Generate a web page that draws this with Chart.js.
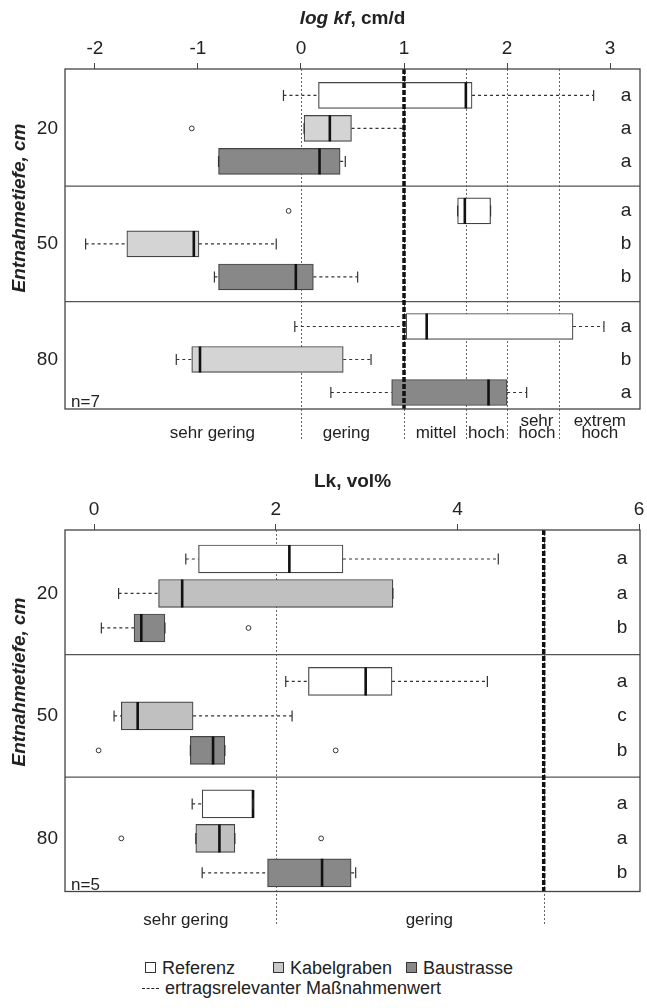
<!DOCTYPE html>
<html>
<head>
<meta charset="utf-8">
<script src="https://cdn.jsdelivr.net/npm/chart.js@4.4.1/dist/chart.umd.min.js"></script>
<style>
  body { margin: 0; background: #fff; font-family: 'Liberation Sans', Arial, sans-serif; }
  #wrap { position: relative; width: 647px; height: 1008px; overflow: hidden; }
  canvas { position: absolute; left: 0; }
  #c1 { top: 0; }
  #c2 { top: 460px; }
  .leg { position: absolute; font-size: 18px; color: #222; white-space: nowrap; line-height: 20px; }
  .sw { display: inline-block; width: 9px; height: 9px; border: 1px solid #333; margin-right: 6px; vertical-align: 1px; }
  .dash { display: inline-block; width: 17px; border-top: 1.5px dashed #222; margin-right: 6px; vertical-align: 5px; }
</style>
</head>
<body>
<div id="wrap">
  <canvas id="c1" width="647" height="460"></canvas>
  <canvas id="c2" width="647" height="485"></canvas>
  <div id="legend"></div>
</div>
<script>
const depths = ['20', '50', '80'];
const groups = ['Referenz', 'Kabelgraben', 'Baustrasse'];
const thresholdName = 'ertragsrelevanter Maßnahmenwert';

// log kf, cm/d -- per depth: [lower whisker, Q1, median, Q3, upper whisker]
const kfReferenz    = [[-0.17, 0.17, 1.60, 1.66, 2.84], [1.52, 1.52, 1.59, 1.84, 1.84], [-0.06, 1.02, 1.22, 2.64, 2.94]];
const kfKabelgraben = [[0.03, 0.03, 0.28, 0.49, 1.00], [-2.09, -1.69, -1.04, -0.99, -0.24], [-1.21, -1.06, -0.98, 0.41, 0.68]];
const kfBaustrasse  = [[-0.80, -0.80, 0.18, 0.38, 0.43], [-0.84, -0.80, -0.05, 0.12, 0.55], [0.29, 0.88, 1.82, 2.00, 2.19]];
// outliers [depth][group]
const kfOutliers    = [[[], [-1.06], []], [[-0.12], [], []], [[], [], []]];
const kfLetters     = [['a', 'a', 'a'], ['a', 'b', 'b'], ['a', 'b', 'a']];
const kfTicks       = [-2, -1, 0, 1, 2, 3];
const kfClassBreaks = [0, 1.6, 2, 2.5];
const kfClassNames  = [['sehr gering'], ['gering'], ['mittel'], ['hoch'], ['sehr', 'hoch'], ['extrem', 'hoch']];
const kfClassAt     = [-0.86, 0.44, 1.31, 1.80, 2.29, 2.90];
const kfThreshold   = 1;

// Lk, vol%
const lkReferenz    = [[1.01, 1.15, 2.15, 2.74, 4.45], [2.11, 2.36, 2.99, 3.28, 4.33], [1.08, 1.19, 1.75, 1.75, 1.75]];
const lkKabelgraben = [[0.27, 0.71, 0.97, 3.29, 3.29], [0.22, 0.30, 0.48, 1.09, 2.18], [1.12, 1.12, 1.38, 1.55, 1.55]];
const lkBaustrasse  = [[0.08, 0.44, 0.52, 0.78, 0.78], [1.06, 1.06, 1.31, 1.44, 1.44], [1.19, 1.91, 2.51, 2.83, 2.88]];
const lkOutliers    = [[[], [], [1.70]], [[], [], [0.05, 2.66]], [[], [0.30, 2.50], []]];
const lkLetters     = [['a', 'a', 'b'], ['a', 'c', 'b'], ['a', 'a', 'b']];
const lkTicks       = [0, 2, 4, 6];
const lkClassBreaks = [2];
const lkClassNames  = [['sehr gering'], ['gering']];
const lkClassAt     = [1.01, 3.69];
const lkThreshold   = 4.95;

const FONT = "'Liberation Sans', Arial, sans-serif";
const INK = '#222';

const boxDecor = {
  id: 'boxDecor',
  beforeDatasetsDraw(chart, args, o) {
    const { ctx, chartArea: a, scales: { x } } = chart;
    ctx.save();
    ctx.strokeStyle = '#666';
    ctx.lineWidth = 1;
    ctx.setLineDash([2, 2]);
    o.breaks.concat([o.threshold]).forEach(v => {
      const px = Math.round(x.getPixelForValue(v)) + 0.5;
      ctx.beginPath(); ctx.moveTo(px, a.top); ctx.lineTo(px, o.lineBottom); ctx.stroke();
    });
    ctx.restore();
  },
  afterDatasetsDraw(chart, args, o) {
    const { ctx, chartArea: a, scales: { x, y } } = chart;
    ctx.save();
    // group separators
    ctx.strokeStyle = '#555';
    ctx.lineWidth = 1.3;
    for (let g = 1; g < depths.length; g++) {
      const py = y.getPixelForValue(g * o.step - (o.step - 2) / 2);
      ctx.beginPath(); ctx.moveTo(a.left, py); ctx.lineTo(a.right, py); ctx.stroke();
    }
    // threshold
    const tx = x.getPixelForValue(o.threshold);
    ctx.strokeStyle = '#111';
    ctx.lineWidth = 3.5;
    ctx.setLineDash([5, 2]);
    ctx.beginPath(); ctx.moveTo(tx, a.top); ctx.lineTo(tx, a.bottom); ctx.stroke();
    ctx.setLineDash([]);
    // frame
    ctx.strokeStyle = '#444';
    ctx.lineWidth = 1.3;
    ctx.strokeRect(a.left, a.top, a.right - a.left, a.bottom - a.top);

    ctx.fillStyle = INK;
    // significance letters
    ctx.font = `19px ${FONT}`;
    ctx.textAlign = 'center';
    ctx.textBaseline = 'middle';
    o.letters.forEach((row, g) => row.forEach((t, j) => {
      ctx.fillText(t, a.right - o.letterInset, y.getPixelForValue(g * o.step + j));
    }));
    // class labels below the plot
    ctx.font = `17px ${FONT}`;
    ctx.textBaseline = 'alphabetic';
    o.classNames.forEach((lines, i) => {
      const cx = x.getPixelForValue(o.classAt[i]);
      lines.forEach((t, k) => ctx.fillText(t, cx, o.labelBaseline - (lines.length - 1 - k) * 12));
    });
    // n
    ctx.textAlign = 'left';
    ctx.fillText(o.n, a.left + 6, a.bottom - 2);
    // x title (mixed styles)
    const parts = o.title;
    let w = 0;
    parts.forEach(p => { ctx.font = `${p.italic ? 'italic ' : ''}bold 19px ${FONT}`; w += ctx.measureText(p.text).width; });
    let px = (a.left + a.right) / 2 - w / 2;
    parts.forEach(p => {
      ctx.font = `${p.italic ? 'italic ' : ''}bold 19px ${FONT}`;
      ctx.fillText(p.text, px, o.titleBaseline);
      px += ctx.measureText(p.text).width;
    });
    // y title
    ctx.translate(20, o.yTitleY);
    ctx.rotate(-Math.PI / 2);
    ctx.font = `italic bold 19px ${FONT}`;
    ctx.textAlign = 'center';
    ctx.textBaseline = 'middle';
    ctx.fillText('Entnahmetiefe, cm', 0, 0);
    ctx.restore();
  }
};

function buildBoxChart(canvasId, s) {
  const boxData = [], boxFill = [], whisk = [], caps = [], meds = [], outs = [];
  depths.forEach((d, g) => {
    s.series.forEach((stats, j) => {
      const [lo, q1, med, q3, hi] = stats[g];
      const pos = g * s.step + j;
      boxData.push({ x: [q1, q3], y: pos });
      boxFill.push(s.fills[j]);
      whisk.push({ x: lo, y: pos }, { x: q1, y: pos }, { x: null, y: null },
                 { x: q3, y: pos }, { x: hi, y: pos }, { x: null, y: null });
      caps.push({ x: lo, y: pos }, { x: hi, y: pos });
      meds.push({ x: med, y: pos });
      s.outliers[g][j].forEach(v => outs.push({ x: v, y: pos }));
    });
  });
  const tickFont = { family: FONT, size: 19 };
  return new Chart(document.getElementById(canvasId), {
    type: 'bar',
    data: {
      datasets: [
        {
          type: 'line', label: 'whiskers', data: whisk, order: 4,
          borderColor: '#333', borderWidth: 1.2, borderDash: [3, 3],
          pointRadius: 0, spanGaps: false, tension: 0, fill: false,
        },
        {
          type: 'bar', label: 'boxes', data: boxData, order: 3, indexAxis: 'y',
          backgroundColor: boxFill, borderColor: '#444', borderWidth: 1.2,
          borderSkipped: false, barThickness: s.boxHeight, grouped: false,
        },
        {
          type: 'line', label: 'median', data: meds, order: 2, showLine: false,
          pointStyle: 'line', pointRotation: 90, pointRadius: s.boxHeight / 2,
          pointBorderWidth: 2.6, pointBorderColor: '#111',
        },
        {
          type: 'line', label: 'caps', data: caps, order: 1, showLine: false,
          pointStyle: 'line', pointRotation: 90, pointRadius: 5.5,
          pointBorderWidth: 1.2, pointBorderColor: '#333',
        },
        {
          type: 'line', label: 'outliers', data: outs, order: 0, showLine: false,
          pointStyle: 'circle', pointRadius: 2.4, pointBorderWidth: 1,
          pointBorderColor: '#333', pointBackgroundColor: '#fff',
        },
      ],
    },
    options: {
      responsive: false,
      animation: false,
      events: [],
      layout: { padding: s.padding, autoPadding: false },
      scales: {
        x: {
          type: 'linear', position: 'top', min: s.xMin, max: s.xMax, offset: false,
          afterBuildTicks: sc => { sc.ticks = s.ticks.map(v => ({ value: v })); },
          afterFit: sc => { sc.height = s.axisHeight; sc.paddingLeft = 0; sc.paddingRight = 0; },
          ticks: { font: tickFont, color: INK, padding: 3, maxRotation: 0, autoSkip: false, callback: v => String(v) },
          grid: { offset: false, drawOnChartArea: false, drawTicks: true, tickLength: 6, color: '#444', lineWidth: 1 },
          border: { display: false },
        },
        y: {
          type: 'linear', reverse: true, min: s.yMin, max: s.yMax, offset: false,
          afterBuildTicks: sc => { sc.ticks = depths.map((d, g) => ({ value: g * s.step + 1 })); },
          afterFit: sc => { sc.width = 65; sc.paddingTop = 0; sc.paddingBottom = 0; },
          ticks: { font: tickFont, color: INK, padding: 7, callback: (v, i) => depths[i] },
          grid: { offset: false, display: false, drawTicks: false },
          border: { display: false },
        },
      },
      plugins: {
        legend: { display: false },
        tooltip: { enabled: false },
        boxDecor: s.decor,
      },
    },
    plugins: [boxDecor],
  });
}

buildBoxChart('c1', {
  series: [kfReferenz, kfKabelgraben, kfBaustrasse],
  outliers: kfOutliers,
  fills: ['#ffffff', '#d4d4d4', '#888888'],
  step: 3.5, boxHeight: 26,
  xMin: -2.29, xMax: 3.29, yMin: -0.8, yMax: 9.5,
  ticks: kfTicks, axisHeight: 69,
  padding: { left: 0, right: 7, top: 0, bottom: 51 },
  decor: {
    step: 3.5, breaks: [0, kfThreshold].concat(kfClassBreaks), threshold: kfThreshold,
    lineBottom: 440, letters: kfLetters, letterInset: 14,
    classNames: kfClassNames, classAt: kfClassAt, labelBaseline: 438,
    n: 'n=7', titleBaseline: 24, yTitleY: 208,
    title: [{ text: 'log kf', italic: true }, { text: ', cm/d', italic: false }],
  },
});

buildBoxChart('c2', {
  series: [lkReferenz, lkKabelgraben, lkBaustrasse],
  outliers: lkOutliers,
  fills: ['#ffffff', '#c0c0c0', '#888888'],
  step: 3.55, boxHeight: 28,
  xMin: -0.32, xMax: 6.01, yMin: -0.84, yMax: 9.64,
  ticks: lkTicks, axisHeight: 70,
  padding: { left: 0, right: 7, top: 0, bottom: 53.5 },
  decor: {
    step: 3.55, breaks: lkClassBreaks, threshold: lkThreshold,
    lineBottom: 465, letters: lkLetters, letterInset: 18,
    classNames: lkClassNames, classAt: lkClassAt, labelBaseline: 465,
    n: 'n=5', titleBaseline: 27, yTitleY: 222,
    title: [{ text: 'Lk, vol%', italic: false }],
  },
});

// legend
const legendFills = ['#ffffff', '#c8c8c8', '#888888'];
const legendX = [145, 273, 406];
const leg = document.getElementById('legend');
groups.forEach((name, i) => {
  const d = document.createElement('div');
  d.className = 'leg';
  d.style.left = legendX[i] + 'px';
  d.style.top = '958px';
  d.innerHTML = `<span class="sw" style="background:${legendFills[i]}"></span>${name}`;
  leg.appendChild(d);
});
const tl = document.createElement('div');
tl.className = 'leg';
tl.style.left = '142px';
tl.style.top = '978px';
tl.innerHTML = `<span class="dash"></span>${thresholdName}`;
leg.appendChild(tl);
</script>
</body>
</html>
